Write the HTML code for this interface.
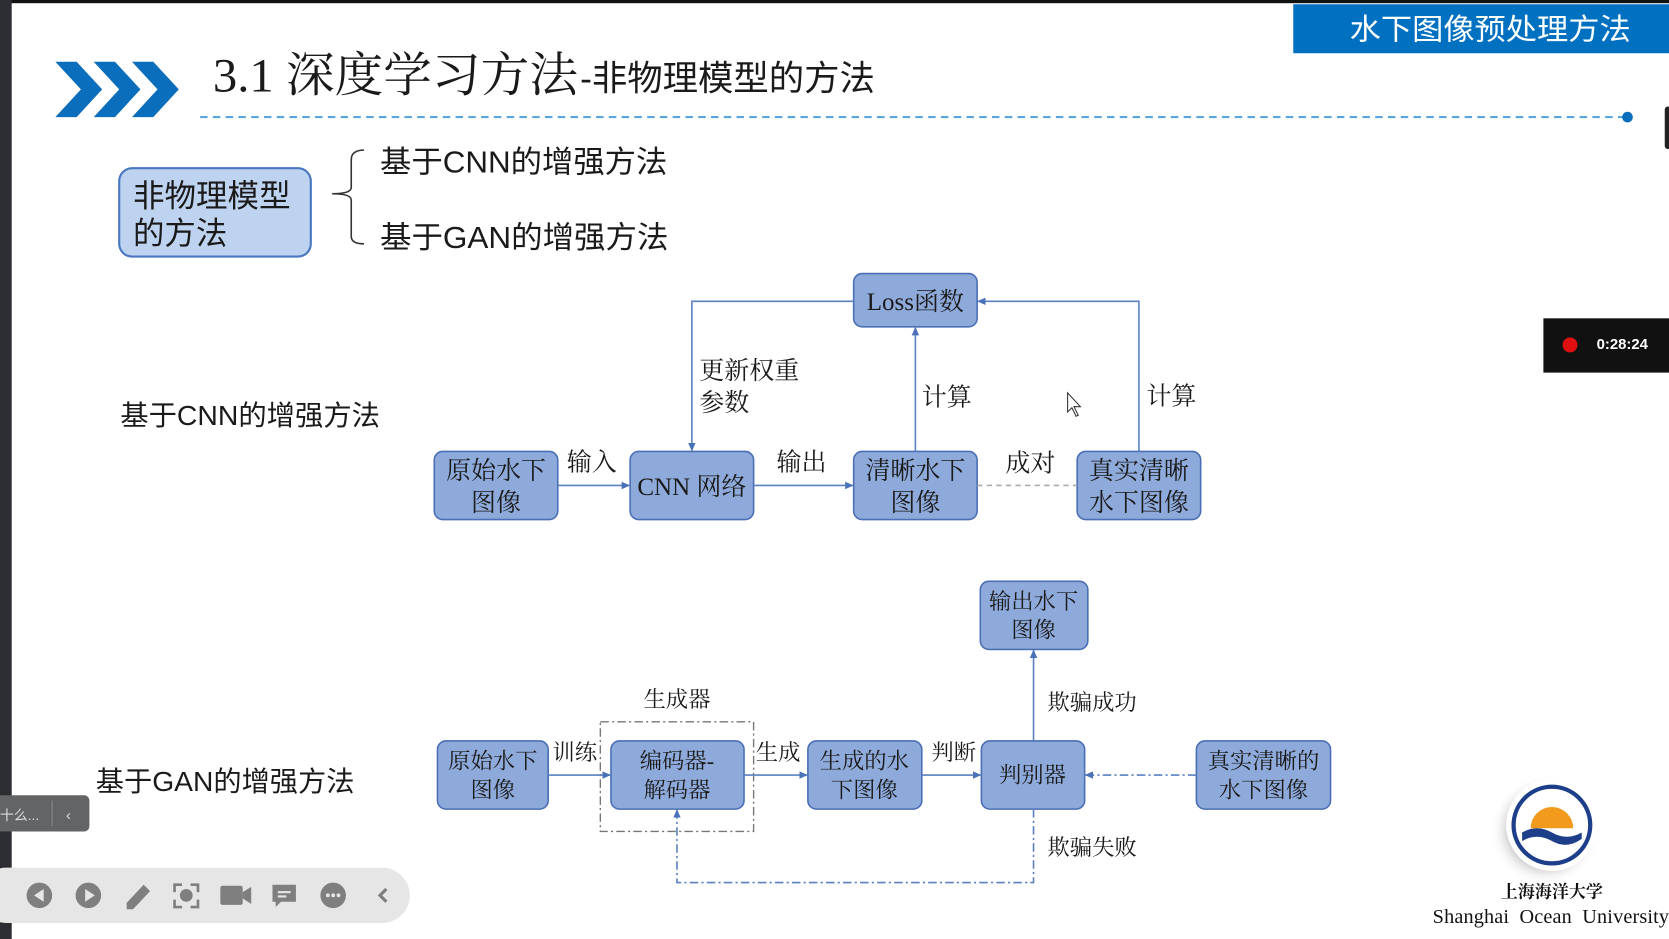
<!DOCTYPE html>
<html><head><meta charset="utf-8"><style>
html,body{margin:0;padding:0;background:#fff;overflow:hidden}
svg{display:block}
.s{font-family:"Liberation Serif","Noto Serif CJK SC",serif;fill:#1a1a1a}
.n{font-family:"Liberation Sans","Noto Sans CJK SC",sans-serif;fill:#1a1a1a}
</style></head><body>
<svg width="1669" height="939" viewBox="0 0 1568 882" preserveAspectRatio="none" xmlns="http://www.w3.org/2000/svg">
<defs>
<marker id="a" markerWidth="8" markerHeight="8" refX="7" refY="4" orient="auto" markerUnits="userSpaceOnUse"><path d="M0,0.5 L8,4 L0,7.5 z" fill="#4a72b8"/></marker>
<radialGradient id="sh"><stop offset="0.6" stop-color="#bbb"/><stop offset="1" stop-color="#fff" stop-opacity="0"/></radialGradient>
</defs>
<rect width="1568" height="882" fill="#fff"/>
<rect x="0" y="0" width="1568" height="3" fill="#111"/>
<rect x="0" y="0" width="11" height="882" fill="#2b2d31"/>
<g fill="#0a6ebd">
<polygon points="52,58 72,58 96,84 72,110 52,110 76,84"/>
<polygon points="88,58 108,58 132,84 108,110 88,110 112,84"/>
<polygon points="124,58 144,58 168,84 144,110 124,110 148,84"/>
</g>
<text x="200" y="86" class="s" font-size="45" textLength="343" lengthAdjust="spacingAndGlyphs">3.1 深度学习方法</text>
<text x="545" y="85" class="n" font-size="33" textLength="277" lengthAdjust="spacingAndGlyphs">-非物理模型的方法</text>
<line x1="188" y1="110" x2="1528" y2="110" stroke="#5aa5dd" stroke-width="2" stroke-dasharray="7,5"/>
<circle cx="1529" cy="110" r="5" fill="#0a6ebd"/>
<rect x="1215" y="4" width="353" height="46" fill="#0070c0"/>
<text x="1400" y="37" text-anchor="middle" font-family="Liberation Sans,Noto Sans CJK SC,sans-serif" font-size="28" fill="#fff" textLength="264" lengthAdjust="spacingAndGlyphs">水下图像预处理方法</text>
<rect x="1564" y="100" width="6" height="40" rx="3" fill="#222"/>
<rect x="112" y="158" width="180" height="83" rx="12" fill="#bdd3f0" stroke="#4a78c0" stroke-width="2"/>
<text x="125" y="194" class="n" font-size="29.5" textLength="148" lengthAdjust="spacingAndGlyphs">非物理模型</text>
<text x="125" y="229" class="n" font-size="29.5">的方法</text>
<path d="M342,141 Q330,141 330,150 L330,176 Q330,182 312,182 Q330,182 330,188 L330,222 Q330,229 342,229" fill="none" stroke="#333" stroke-width="1.5"/>
<text x="357" y="162" class="n" font-size="29" textLength="270" lengthAdjust="spacingAndGlyphs">基于CNN的增强方法</text>
<text x="357" y="233" class="n" font-size="29" textLength="271" lengthAdjust="spacingAndGlyphs">基于GAN的增强方法</text>
<rect x="1450" y="299" width="118" height="51" fill="#111"/>
<circle cx="1475" cy="324" r="7" fill="#e01010"/>
<text x="1500" y="328" font-family="Liberation Sans,sans-serif" font-weight="bold" font-size="14" fill="#fff">0:28:24</text>
<text x="113" y="399" class="n" font-size="26" textLength="244" lengthAdjust="spacingAndGlyphs">基于CNN的增强方法</text>
<text x="90" y="743" class="n" font-size="26" textLength="243" lengthAdjust="spacingAndGlyphs">基于GAN的增强方法</text>
<g fill="#8eaadb" stroke="#4a6fb5" stroke-width="1.5">
<rect x="802" y="257" width="116" height="50" rx="8"/>
<rect x="408" y="424" width="116" height="64" rx="8"/>
<rect x="592" y="424" width="116" height="64" rx="8"/>
<rect x="802" y="424" width="116" height="64" rx="8"/>
<rect x="1012" y="424" width="116" height="64" rx="8"/>
</g>
<g stroke="#5a80c0" stroke-width="1.5" fill="none">
<line x1="524" y1="456" x2="591" y2="456" marker-end="url(#a)"/>
<line x1="708" y1="456" x2="801" y2="456" marker-end="url(#a)"/>
<line x1="918" y1="456" x2="1012" y2="456" stroke="#aaa" stroke-dasharray="5,4"/>
<line x1="860" y1="424" x2="860" y2="308" marker-end="url(#a)"/>
<polyline points="1070,424 1070,283 919,283" marker-end="url(#a)"/>
<polyline points="802,283 650,283 650,423" marker-end="url(#a)"/>
</g>
<g class="s" font-size="23.5">
<text x="860" y="291" text-anchor="middle">Loss函数</text>
<text x="466" y="450" text-anchor="middle">原始水下</text><text x="466" y="480" text-anchor="middle">图像</text>
<text x="650" y="465" text-anchor="middle">CNN 网络</text>
<text x="860" y="450" text-anchor="middle">清晰水下</text><text x="860" y="480" text-anchor="middle">图像</text>
<text x="1070" y="450" text-anchor="middle">真实清晰</text><text x="1070" y="480" text-anchor="middle">水下图像</text>
<text x="556" y="442" text-anchor="middle">输入</text>
<text x="753" y="442" text-anchor="middle">输出</text>
<text x="968" y="443" text-anchor="middle">成对</text>
<text x="866" y="381">计算</text>
<text x="1077" y="380">计算</text>
<text x="657" y="356">更新权重</text>
<text x="657" y="386">参数</text>
</g>
<path d="M1003,369 L1003,387 L1007,383 L1011,391 L1013,390 L1009,382 L1015,382 Z" fill="#fff" stroke="#333" stroke-width="1"/>
<g fill="#8eaadb" stroke="#4a6fb5" stroke-width="1.5">
<rect x="921" y="546" width="101" height="64" rx="8"/>
<rect x="411" y="696" width="104" height="64" rx="8"/>
<rect x="574" y="696" width="125" height="64" rx="8"/>
<rect x="759" y="696" width="107" height="64" rx="8"/>
<rect x="922" y="696" width="97" height="64" rx="8"/>
<rect x="1124" y="696" width="126" height="64" rx="8"/>
</g>
<rect x="564" y="678" width="144" height="103" fill="none" stroke="#777" stroke-width="1.3" stroke-dasharray="8,3,2,3"/>
<g stroke="#5a80c0" stroke-width="1.5" fill="none">
<line x1="515" y1="728" x2="573" y2="728" marker-end="url(#a)"/>
<line x1="699" y1="728" x2="758" y2="728" marker-end="url(#a)"/>
<line x1="866" y1="728" x2="921" y2="728" marker-end="url(#a)"/>
<line x1="1124" y1="728" x2="1020" y2="728" stroke-dasharray="8,3,2,3" marker-end="url(#a)"/>
<line x1="971" y1="696" x2="971" y2="611" marker-end="url(#a)"/>
<polyline points="971,760 971,829 636,829 636,761" stroke-dasharray="8,3,2,3" marker-end="url(#a)"/>
</g>
<g class="s" font-size="21">
<text x="971" y="572" text-anchor="middle">输出水下</text><text x="971" y="599" text-anchor="middle">图像</text>
<text x="463" y="722" text-anchor="middle">原始水下</text><text x="463" y="749" text-anchor="middle">图像</text>
<text x="636" y="722" text-anchor="middle">编码器-</text><text x="636" y="749" text-anchor="middle">解码器</text>
<text x="812" y="722" text-anchor="middle">生成的水</text><text x="812" y="749" text-anchor="middle">下图像</text>
<text x="970" y="735" text-anchor="middle">判别器</text>
<text x="1187" y="722" text-anchor="middle">真实清晰的</text><text x="1187" y="749" text-anchor="middle">水下图像</text>
<text x="636" y="664" text-anchor="middle">生成器</text>
<text x="540" y="714" text-anchor="middle">训练</text>
<text x="731" y="714" text-anchor="middle">生成</text>
<text x="896" y="714" text-anchor="middle">判断</text>
<text x="984" y="667">欺骗成功</text>
<text x="984" y="803">欺骗失败</text>
</g>
<rect x="-10" y="747" width="94" height="34" rx="5" fill="#636465"/>
<line x1="49" y1="752" x2="49" y2="776" stroke="#888"/>
<text x="0" y="770" font-family="Liberation Sans,Noto Sans CJK SC,sans-serif" font-size="13" fill="#ddd">十么...</text>
<text x="62" y="770" font-family="Liberation Sans,sans-serif" font-size="14" fill="#ddd">‹</text>
<rect x="-20" y="815" width="405" height="52" rx="26" fill="#e6e6e6"/>
<g fill="#7f7f7f">
<circle cx="37" cy="841" r="12"/><polygon points="41,835 41,847 32,841" fill="#e6e6e6"/>
<circle cx="83" cy="841" r="12"/><polygon points="80,835 80,847 89,841" fill="#e6e6e6"/>
<polygon points="119,848 135,831 141,837 125,854 119,854"/>
<rect x="169" y="835" width="12" height="12" rx="6"/>
<path d="M164,838 v-7 h7 M179,831 h7 v7 M186,845 v7 h-7 M171,852 h-7 v-7" fill="none" stroke="#7f7f7f" stroke-width="2.5"/>
<rect x="207" y="832" width="21" height="18" rx="2"/><polygon points="228,838 236,833 236,849 228,844"/>
<path d="M256,831 h22 v16 h-14 l-5,5 v-5 h-3 z"/>
<circle cx="313" cy="841" r="12"/>
</g>
<g fill="#e6e6e6"><rect x="261" y="837" width="12" height="2"/><rect x="261" y="841" width="8" height="2"/>
<circle cx="308" cy="841" r="1.8"/><circle cx="313" cy="841" r="1.8"/><circle cx="318" cy="841" r="1.8"/></g>
<path d="M363,835 l-6,6 l6,6" fill="none" stroke="#7f7f7f" stroke-width="3"/>
<circle cx="1452" cy="780" r="52" fill="url(#sh)"/>
<circle cx="1458" cy="775" r="43" fill="#fff"/>
<circle cx="1458" cy="775" r="36" fill="#fff" stroke="#1d3f8a" stroke-width="4"/>
<path d="M1438,778 a20,20 0 0 1 40,0 z" fill="#f19a1c"/>
<path d="M1430,782 q14,-8 28,0 t28,0 v6 q-14,10 -28,2 t-28,0 z" fill="#1d3f8a"/>
<text x="1458" y="843" text-anchor="middle" font-family="Liberation Serif,Noto Serif CJK SC,serif" font-size="16" font-weight="bold" fill="#111">上海海洋大学</text>
<text x="1346" y="867" font-family="Liberation Serif,serif" font-size="19" fill="#111" xml:space="preserve" textLength="222" lengthAdjust="spacing">Shanghai  Ocean  University</text>
</svg>
</body></html>
